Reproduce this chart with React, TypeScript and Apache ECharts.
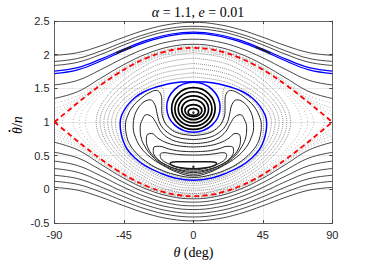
import React, { useEffect, useRef } from "react";
import * as echarts from "echarts";

// ---------- Data ----------
// Red dashed separatrix (theta >= 0 half, mirrored)
const sepTheta = [0, 10, 20, 30, 40, 50, 60, 70, 80, 90];
const sepUp = [2.1, 2.083, 2.034, 1.953, 1.843, 1.707, 1.55, 1.376, 1.191, 1.0];
const sepDn = [-0.1, -0.083, -0.034, 0.047, 0.157, 0.293, 0.45, 0.624, 0.809, 1.0];

// Circulating orbits (theta >= 0 half, mirrored)
const circTheta = [0, 15, 30, 45, 60, 75, 90];
const rotUp1 = [2.48, 2.452, 2.374, 2.259, 2.132, 2.03, 1.99];
const rotUp2 = [2.421, 2.392, 2.311, 2.19, 2.055, 1.944, 1.9];
const rotUp3 = [2.384, 2.354, 2.27, 2.145, 2.004, 1.887, 1.84];
const rotUp4 = [2.23, 2.196, 2.1, 1.953, 1.778, 1.619, 1.55];
const rotUp5 = [2.154, 2.119, 2.015, 1.853, 1.652, 1.451, 1.35];
const blueUp1 = [2.334, 2.303, 2.216, 2.084, 1.934, 1.807, 1.755];
const blueUp2 = [2.315, 2.284, 2.194, 2.06, 1.906, 1.774, 1.72];
const chaosUp1 = [2.118, 2.081, 1.973, 1.803, 1.585, 1.348, 1.2];
const chaosUp2 = [2.105, 2.067, 1.958, 1.784, 1.559, 1.302, 1.1];
const chaosUp3 = [2.126, 2.09, 1.985, 1.82, 1.61, 1.39, 1.28];
const chaosUp4 = [2.111, 2.074, 1.965, 1.793, 1.57, 1.325, 1.15];
const rotDn1 = [-0.14, -0.104, 0.001, 0.166, 0.374, 0.587, 0.7];
const rotDn2 = [-0.189, -0.154, -0.054, 0.101, 0.289, 0.468, 0.55];
const rotDn3 = [-0.244, -0.211, -0.115, 0.03, 0.201, 0.354, 0.42];
const rotDn4 = [-0.299, -0.267, -0.176, -0.04, 0.118, 0.254, 0.31];
const rotDn5 = [-0.354, -0.324, -0.238, -0.109, 0.037, 0.16, 0.21];
const rotDn6 = [-0.409, -0.38, -0.297, -0.175, -0.038, 0.075, 0.12];
const rotDn7 = [-0.467, -0.439, -0.36, -0.243, -0.115, -0.011, 0.03];
const chaosDn1 = [-0.118, -0.081, 0.027, 0.197, 0.415, 0.652, 0.8];
const chaosDn2 = [-0.105, -0.067, 0.042, 0.216, 0.441, 0.698, 0.9];
const chaosDn3 = [-0.111, -0.074, 0.035, 0.207, 0.43, 0.675, 0.85];
const chaosDn4 = [-0.125, -0.089, 0.018, 0.186, 0.398, 0.625, 0.75];

// Small island chain on the blue band near ±45°
const chainTheta = [40, 45, 50];
const chainY = [2.116, 2.072, 2.02];

// Chaotic layer just inside the separatrix (dotted lenses)
const lensATheta = [0, 20, 35, 45, 55, 62, 66, 68.5, 70];
const lensAUp = [2.055, 1.982, 1.836, 1.695, 1.517, 1.361, 1.247, 1.148, 1.0];
const lensADn = [-0.06, 0.013, 0.16, 0.301, 0.481, 0.637, 0.752, 0.852, 1.0];
const lensBTheta = [0, 20, 35, 45, 55, 65, 72, 76, 78];
const lensBUp = [2.075, 2.007, 1.871, 1.743, 1.587, 1.404, 1.252, 1.135, 1.0];
const lensBDn = [-0.08, -0.012, 0.125, 0.254, 0.41, 0.594, 0.747, 0.864, 1.0];
const lensCTheta = [0, 20, 35, 45, 55, 65, 75, 80, 85];
const lensCUp = [2.09, 2.024, 1.892, 1.767, 1.62, 1.452, 1.267, 1.165, 1.0];
const lensCDn = [-0.095, -0.028, 0.104, 0.229, 0.377, 0.546, 0.732, 0.835, 1.0];
const lensDTheta = [0, 20, 35, 45, 55, 63, 69, 72.5, 74];
const lensDUp = [2.065, 1.995, 1.855, 1.72, 1.555, 1.395, 1.25, 1.14, 1.0];
const lensDDn = [-0.07, 0.0, 0.142, 0.278, 0.445, 0.612, 0.75, 0.858, 1.0];

// Libration tori between the blue eye and the separatrix
const t1Theta = [0, 20, 35, 45, 52, 57, 60, 62, 63];
const t1Up = [2.03, 1.951, 1.788, 1.627, 1.481, 1.349, 1.242, 1.137, 1.0];
const t1Dn = [-0.06, 0.022, 0.189, 0.354, 0.505, 0.641, 0.751, 0.859, 1.0];
const t2Theta = [0, 20, 35, 45, 50, 55, 58, 60, 60.5];
const t2Up = [1.95, 1.874, 1.714, 1.554, 1.451, 1.321, 1.214, 1.095, 1.0];
const t2Dn = [-0.02, 0.062, 0.233, 0.405, 0.516, 0.655, 0.77, 0.899, 1.0];
const t3Theta = [0, 20, 35, 45, 50, 54, 56, 57.3, 58];
const t3Up = [1.87, 1.796, 1.641, 1.48, 1.373, 1.261, 1.184, 1.108, 1.0];
const t3Dn = [0.02, 0.103, 0.278, 0.459, 0.58, 0.706, 0.793, 0.878, 1.0];
const t4Theta = [0, 20, 35, 45, 50, 53, 54.5, 55.5];
const t4Up = [1.8, 1.728, 1.574, 1.411, 1.295, 1.198, 1.124, 1.0];
const t4Dn = [0.06, 0.145, 0.325, 0.517, 0.653, 0.768, 0.854, 1.0];
const t5Theta = [0, 20, 35, 42, 47, 50, 52, 53];
const t5Up = [1.73, 1.66, 1.508, 1.399, 1.293, 1.207, 1.119, 1.0];
const t5Dn = [0.09, 0.177, 0.367, 0.503, 0.634, 0.742, 0.852, 1.0];
const t6Theta = [0, 20, 35, 42, 46, 48.5, 50, 50.5];
const t6Up = [1.67, 1.6, 1.448, 1.334, 1.243, 1.161, 1.08, 1.0];
const t6Dn = [0.115, 0.2, 0.39, 0.53, 0.66, 0.77, 0.89, 1.0];

// Blue eye (left half, top-centre -> bottom-centre)
const eyeHalf = [
  [0, 1.6], [-8, 1.595], [-16, 1.57], [-24, 1.52], [-32, 1.45], [-38, 1.36],
  [-43, 1.24], [-46.5, 1.1], [-47.5, 0.98], [-47, 0.85], [-45.5, 0.72],
  [-43, 0.6], [-38, 0.47], [-31, 0.35], [-22, 0.25], [-12, 0.17], [0, 0.135],
];

// Horseshoe / kidney orbits around the lower centre (left half)
const horse0 = [
  [0, 0.825], [-9, 0.85], [-15.5, 0.92], [-19.3, 1.04], [-19.2, 1.2], [-19, 1.36],
  [-19.5, 1.48], [-22, 1.53], [-27, 1.5], [-33, 1.42], [-39, 1.31], [-43.5, 1.17],
  [-45.5, 1.02], [-45.3, 0.86], [-43.5, 0.71], [-39.5, 0.57], [-33, 0.43],
  [-24, 0.31], [-12, 0.2], [0, 0.155],
];
const horse1 = [
  [0, 0.8], [-9, 0.83], [-15, 0.9], [-19, 1.02], [-20.5, 1.17], [-20.5, 1.32],
  [-21.5, 1.43], [-24, 1.47], [-29, 1.43], [-34, 1.35], [-39, 1.24], [-42.5, 1.1],
  [-44, 0.96], [-43.5, 0.82], [-41.5, 0.68], [-37, 0.54], [-31, 0.42], [-23, 0.31],
  [-12, 0.22], [0, 0.178],
];
const horse2 = [
  [0, 0.74], [-10, 0.77], [-17, 0.85], [-21.5, 0.97], [-23.5, 1.12], [-25, 1.26],
  [-28, 1.33], [-32, 1.3], [-36, 1.2], [-38.5, 1.06], [-39, 0.92], [-37.5, 0.77],
  [-34, 0.62], [-28, 0.48], [-20, 0.36], [-10, 0.25], [0, 0.2],
];
const horse3 = [
  [0, 0.68], [-9, 0.7], [-16, 0.76], [-21, 0.86], [-24, 0.98], [-27, 1.08],
  [-30.5, 1.11], [-33, 1.04], [-34.5, 0.92], [-34, 0.78], [-31.5, 0.64],
  [-27, 0.5], [-20, 0.37], [-10, 0.27], [0, 0.225],
];
const horse4 = [
  [0, 0.63], [-9, 0.645], [-17, 0.69], [-23, 0.76], [-27, 0.83], [-29.5, 0.82],
  [-30.5, 0.74], [-29.5, 0.62], [-26, 0.5], [-20, 0.39], [-10, 0.29], [0, 0.25],
];
const horse5 = [
  [0, 0.56], [-9, 0.57], [-16, 0.6], [-22, 0.64], [-25.5, 0.63], [-26, 0.56],
  [-24, 0.47], [-19, 0.38], [-10, 0.3], [0, 0.27],
];
const horse6 = [
  [0, 0.51], [-8, 0.515], [-14, 0.53], [-19, 0.545], [-21.5, 0.52], [-21, 0.46],
  [-17, 0.39], [-9, 0.32], [0, 0.29],
];
const crescent = [
  [0, 0.41], [-6, 0.41], [-11, 0.41], [-14.5, 0.4], [-15, 0.38], [-13, 0.35],
  [-8, 0.32], [0, 0.306],
];

// Upper island: [theta centre, y centre, half-width (deg), half-height]
const islandEdge = [[0, 1.22, 17.3, 0.37]];
const islandRings = [
  [0, 1.2, 14.1, 0.31],
  [0, 1.195, 12, 0.255],
  [0, 1.19, 9.8, 0.2],
  [0, 1.183, 7.6, 0.148],
  [0, 1.17, 5.5, 0.09],
  [0, 1.15, 3.4, 0.05],
];
const centres = [[0, 1.14], [0, 0.335]];

const xTicks = [-90, -45, 0, 45, 90];
const yRange = [-0.5, 2.5];

// ---------- helpers ----------
function mirrorOpen(th: number[], ys: number[]) {
  const pts: number[][] = [];
  for (let i = th.length - 1; i > 0; i--) pts.push([-th[i], ys[i]]);
  for (let i = 0; i < th.length; i++) pts.push([th[i], ys[i]]);
  return pts;
}
function mirrorLoop(half: number[][]) {
  const pts = half.map((p) => [p[0], p[1]]);
  for (let i = half.length - 2; i >= 0; i--) pts.push([-half[i][0], half[i][1]]);
  return pts;
}
function torusLoop(th: number[], up: number[], dn: number[]) {
  const half: number[][] = [];
  for (let i = 0; i < th.length; i++) half.push([-th[i], up[i]]);
  for (let i = th.length - 2; i >= 0; i--) half.push([-th[i], dn[i]]);
  return mirrorLoop(half);
}
function pairs(th: number[], ys: number[], sign: number) {
  return th.map((t, i) => [sign * t, ys[i]]);
}
function line(data: number[][], color: string, width: number, type: any = "solid", z = 2, smooth: any = 0.4) {
  return {
    type: "line",
    data,
    showSymbol: false,
    symbol: "none",
    smooth,
    silent: true,
    clip: true,
    z,
    lineStyle: { color, width, type },
  };
}
function ellipses(data: number[][], color: string, width: number, z = 3) {
  return {
    type: "custom",
    data,
    silent: true,
    clip: true,
    z,
    encode: { x: 0, y: 1 },
    renderItem: (_p: any, api: any) => {
      const c = api.coord([api.value(0), api.value(1)]);
      const s = api.size([api.value(2), api.value(3)]);
      return {
        type: "ellipse",
        shape: { cx: c[0], cy: c[1], rx: s[0], ry: s[1] },
        style: { fill: "none", stroke: color, lineWidth: width },
      };
    },
  };
}

export default function App() {
  const ref = useRef<HTMLDivElement>(null);
  useEffect(() => {
    if (!ref.current) return;
    const chart = echarts.init(ref.current, null, { renderer: "svg" });
    const black = "#1a1a1a";
    const kidney = "#222222";
    const gray = "rgba(60,60,60,0.7)";
    const chaos = "rgba(70,70,70,0.5)";
    const series: any[] = [
      // chaotic layer
      line(mirrorOpen(circTheta, chaosUp1), chaos, 0.8, [1, 2], 1),
      line(mirrorOpen(circTheta, chaosUp2), chaos, 0.8, [1, 2], 1),
      line(mirrorOpen(circTheta, chaosUp3), chaos, 0.8, [1, 2.5], 1),
      line(mirrorOpen(circTheta, chaosUp4), chaos, 0.8, [1, 2.5], 1),
      line(mirrorOpen(circTheta, chaosDn1), chaos, 0.8, [1, 2], 1),
      line(mirrorOpen(circTheta, chaosDn2), chaos, 0.8, [1, 2], 1),
      line(mirrorOpen(circTheta, chaosDn3), chaos, 0.8, [1, 2.5], 1),
      line(mirrorOpen(circTheta, chaosDn4), chaos, 0.8, [1, 2.5], 1),
      line(torusLoop(lensATheta, lensAUp, lensADn), chaos, 0.8, [1, 2], 1),
      line(torusLoop(lensBTheta, lensBUp, lensBDn), chaos, 0.8, [1, 2], 1),
      line(torusLoop(lensCTheta, lensCUp, lensCDn), chaos, 0.8, [1, 2], 1),
      line(torusLoop(lensDTheta, lensDUp, lensDDn), chaos, 0.8, [1, 2.5], 1),
      // circulating orbits
      line(mirrorOpen(circTheta, rotUp1), black, 0.8),
      line(mirrorOpen(circTheta, rotUp2), black, 0.8),
      line(mirrorOpen(circTheta, rotUp3), black, 0.8),
      line(mirrorOpen(circTheta, rotUp4), black, 0.8),
      line(mirrorOpen(circTheta, rotUp5), black, 0.8),
      line(mirrorOpen(circTheta, rotDn1), black, 0.8),
      line(mirrorOpen(circTheta, rotDn2), black, 0.8),
      line(mirrorOpen(circTheta, rotDn3), black, 0.8),
      line(mirrorOpen(circTheta, rotDn4), black, 0.8),
      line(mirrorOpen(circTheta, rotDn5), black, 0.8),
      line(mirrorOpen(circTheta, rotDn6), black, 0.8),
      line(mirrorOpen(circTheta, rotDn7), black, 0.8),
      line(mirrorOpen(circTheta, blueUp1), "#0000ff", 1.2, "solid", 4),
      line(mirrorOpen(circTheta, blueUp2), "#0000ff", 1.2, "solid", 4),
      line(pairs(chainTheta, chainY, -1), "#222", 1.8, "solid", 5),
      line(pairs(chainTheta, chainY, 1), "#222", 1.8, "solid", 5),
      // libration tori
      line(torusLoop(t1Theta, t1Up, t1Dn), gray, 0.8, [1, 1]),
      line(torusLoop(t2Theta, t2Up, t2Dn), gray, 0.8, [1, 1]),
      line(torusLoop(t3Theta, t3Up, t3Dn), gray, 0.8, [1, 1]),
      line(torusLoop(t4Theta, t4Up, t4Dn), gray, 0.8, [1, 1]),
      line(torusLoop(t5Theta, t5Up, t5Dn), gray, 0.8, [1, 1]),
      line(torusLoop(t6Theta, t6Up, t6Dn), gray, 0.8, [1, 1]),
      // horseshoes
      line(mirrorLoop(horse0), gray, 0.8, [1, 1]),
      line(mirrorLoop(horse1), kidney, 1.0),
      line(mirrorLoop(horse2), kidney, 1.0),
      line(mirrorLoop(horse3), kidney, 1.0),
      line(mirrorLoop(horse4), kidney, 1.0),
      line(mirrorLoop(horse5), kidney, 1.0),
      line(mirrorLoop(horse6), kidney, 1.0),
      line(mirrorLoop(crescent), black, 1.5),
      // blue eye
      line(mirrorLoop(eyeHalf), "#0000ff", 1.5, "solid", 4),
      // island
      ellipses(islandRings, "#000000", 1.7, 3),
      ellipses(islandEdge, "#0000ff", 1.5, 4),
      {
        type: "scatter",
        data: centres,
        symbolSize: 2.5,
        itemStyle: { color: "#000" },
        silent: true,
        z: 5,
      },
      // separatrix
      line(mirrorOpen(sepTheta, sepUp), "#ff0000", 1.8, [5, 3.5], 6),
      line(mirrorOpen(sepTheta, sepDn), "#ff0000", 1.8, [5, 3.5], 6),
    ];

    const axisColor = "#444";
    const labelStyle = { color: "#262626", fontSize: 11, fontFamily: "Liberation Sans" };
    const serifRich = {
      i: { fontFamily: "Liberation Serif", fontStyle: "italic", fontSize: 14, color: "#000" },
    };
    chart.setOption({
      animation: false,
      title: {
        text: "{i|α} = 1.1, {i|e} = 0.01",
        left: 193,
        top: 0,
        textAlign: "center",
        textStyle: {
          fontFamily: "Liberation Serif",
          fontSize: 14,
          fontWeight: "normal",
          color: "#000",
          rich: serifRich,
        },
      },
      graphic: [
        {
          type: "group",
          x: 17,
          y: 125,
          rotation: Math.PI / 2,
          children: [
            {
              type: "text",
              x: 0,
              y: 0,
              style: {
                text: "{i|θ}/{i|n}",
                x: 0,
                y: 0,
                align: "center",
                verticalAlign: "middle",
                font: "14px 'Liberation Serif'",
                fill: "#000",
                rich: serifRich,
              },
            },
            { type: "circle", shape: { cx: -6, cy: -7.5, r: 0.9 }, style: { fill: "#000" } },
          ],
        },
      ],
      grid: { left: 54.5, right: 41.7, top: 21, bottom: 34, containLabel: false },
      xAxis: [
        {
          type: "value",
          min: xTicks[0],
          max: xTicks[xTicks.length - 1],
          interval: 45,
          name: "{i|θ} (deg)",
          nameLocation: "middle",
          nameGap: 17,
          nameTextStyle: { fontFamily: "Liberation Serif", fontSize: 14, color: "#000", rich: serifRich },
          axisLine: { show: true, onZero: false, lineStyle: { color: axisColor, width: 0.8 } },
          axisTick: { show: true, inside: true, length: 3, lineStyle: { color: axisColor } },
          axisLabel: { ...labelStyle, margin: 6 },
          splitLine: { show: true, lineStyle: { color: "#e4e4e4", width: 0.8 } },
        },
        {
          type: "value",
          position: "top",
          min: xTicks[0],
          max: xTicks[xTicks.length - 1],
          interval: 45,
          axisLine: { show: true, onZero: false, lineStyle: { color: axisColor, width: 0.8 } },
          axisTick: { show: true, inside: true, length: 3, lineStyle: { color: axisColor } },
          axisLabel: { show: false },
          splitLine: { show: false },
        },
      ],
      yAxis: [
        {
          type: "value",
          min: yRange[0],
          max: yRange[1],
          interval: 0.5,
          axisLine: { show: true, onZero: false, lineStyle: { color: axisColor, width: 0.8 } },
          axisTick: { show: true, inside: true, length: 3, lineStyle: { color: axisColor } },
          axisLabel: { ...labelStyle, margin: 5 },
          splitLine: { show: true, lineStyle: { color: "#e4e4e4", width: 0.8 } },
        },
        {
          type: "value",
          position: "right",
          min: yRange[0],
          max: yRange[1],
          interval: 0.5,
          axisLine: { show: true, onZero: false, lineStyle: { color: axisColor, width: 0.8 } },
          axisTick: { show: true, inside: true, length: 3, lineStyle: { color: axisColor } },
          axisLabel: { show: false },
          splitLine: { show: false },
        },
      ],
      series,
    });
    return () => chart.dispose();
  }, []);
  return (
    <div
      ref={ref}
      style={{ position: "fixed", left: 0, top: 0, width: 374, height: 264, background: "#fff" }}
    />
  );
}
